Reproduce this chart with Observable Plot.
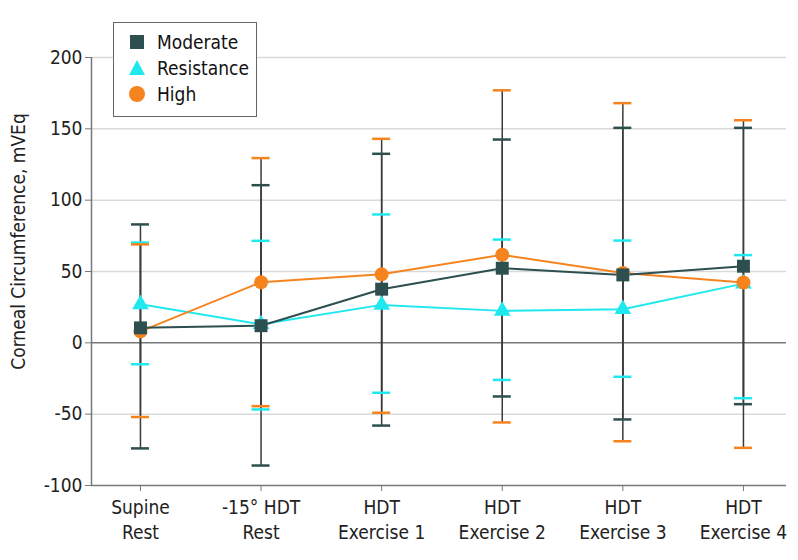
<!DOCTYPE html>
<html>
<head>
<meta charset="utf-8">
<script src="https://cdn.jsdelivr.net/npm/d3@7"></script>
<script src="https://cdn.jsdelivr.net/npm/@observablehq/plot@0.6"></script>
<style>
  html, body { margin: 0; padding: 0; background: #fff; }
  #wrap { position: relative; width: 798px; height: 560px; font-family: "DejaVu Sans Condensed", "Liberation Sans Narrow", sans-serif; }
  #legend { position: absolute; left: 113px; top: 22px; width: 144px; height: 95px; border: 1.5px solid #666; background: #fff; box-sizing: border-box; }
  .item { position: absolute; left: 14px; display: flex; align-items: center; font-size: 19px; color: #111; }
  .item svg { margin-right: 11px; }
</style>
</head>
<body>
<div id="wrap"><div id="chart"></div><div id="legend"></div></div>
<script>
const categories = ["Supine Rest", "-15° HDT Rest", "HDT Exercise 1", "HDT Exercise 2", "HDT Exercise 3", "HDT Exercise 4"];
const tickLabels = ["Supine\nRest", "-15° HDT\nRest", "HDT\nExercise 1", "HDT\nExercise 2", "HDT\nExercise 3", "HDT\nExercise 4"];
const yTicks = [-100, -50, 0, 50, 100, 150, 200];
const yTickLabels = ["-100", "-50", "0", "50", "100", "150", "200"];
const seriesNames = ["Moderate", "Resistance", "High"];

const moderateMean = [10.5, 12, 37.6, 52.3, 47.6, 53.7];
const moderateLow  = [-74, -86, -58, -37.6, -53.7, -43];
const moderateHigh = [83, 110.5, 132.5, 142.5, 150.7, 150.7];

const resistanceMean = [27, 13, 26.6, 22.4, 23.6, 41.5];
const resistanceLow  = [-15, -46.7, -35, -26, -23.8, -38.8];
const resistanceHigh = [70.3, 71.5, 90, 72.4, 71.7, 61.5];

const highMean = [8, 42.5, 48, 61.7, 49, 42.3];
const highLow  = [-52, -44.4, -49, -55.8, -69, -73.6];
const highHigh = [69, 129.5, 143, 177, 168, 156];

const colors = {Moderate: "#2d4f4f", Resistance: "#1fe8ef", High: "#f5841f"};
const symbols = {Moderate: "square", Resistance: "triangle", High: "circle"};
const radii = {Moderate: 7.3, Resistance: 6.2, High: 7};

const build = (name, mean, low, high) => categories.map((c, i) => ({series: name, cat: c, i, mean: mean[i], low: low[i], high: high[i]}));
const moderate = build("Moderate", moderateMean, moderateLow, moderateHigh);
const resistance = build("Resistance", resistanceMean, resistanceLow, resistanceHigh);
const high = build("High", highMean, highLow, highHigh);
const drawOrder = [resistance, high, moderate];
const all = [...resistance, ...high, ...moderate];

const xDomain = [-0.406, 5.357];
const font = '"DejaVu Sans Condensed", "Liberation Sans Narrow", sans-serif';

const marks = [
  Plot.gridY(yTicks.filter(t => t !== 0 && t !== -100), {stroke: "#d9d9d9", strokeOpacity: 1, strokeWidth: 1.5}),
  Plot.ruleY([0], {stroke: "#777", strokeWidth: 1.5}),
  Plot.ruleY([yTicks[0]], {stroke: "#777", strokeWidth: 1.5}),
  Plot.ruleX([xDomain[0]], {stroke: "#777", strokeWidth: 1.5}),
  Plot.axisY({ticks: yTicks, tickFormat: d => yTickLabels[yTicks.indexOf(d)], tickSize: 6, tickPadding: 3, stroke: "#777", fontSize: 19, fill: "#222", label: null}),
  Plot.axisX({ticks: categories.map((c, i) => i), tickFormat: i => tickLabels[i], tickSize: 6, tickPadding: 5, stroke: "#777", fontSize: 19, fill: "#222", lineHeight: 1.3, label: null}),
  Plot.ruleX(all, {x: "i", y1: "low", y2: "high", stroke: "#3a3a3a", strokeWidth: 1.5})
];
for (const s of drawOrder) {
  const name = s[0].series;
  marks.push(Plot.ruleY(s, {x1: "i", x2: "i", y: "high", insetLeft: -9, insetRight: -9, stroke: colors[name], strokeWidth: 2.5}));
  marks.push(Plot.ruleY(s, {x1: "i", x2: "i", y: "low", insetLeft: -9, insetRight: -9, stroke: colors[name], strokeWidth: 2.5}));
}
for (const s of drawOrder) {
  const name = s[0].series;
  marks.push(Plot.line(s, {x: "i", y: "mean", stroke: colors[name], strokeWidth: 2}));
}
for (const s of drawOrder) {
  const name = s[0].series;
  marks.push(Plot.dot(s, {x: "i", y: "mean", symbol: () => symbols[name], fill: colors[name], r: radii[name], stroke: "none"}));
}

const chart = Plot.plot({
  width: 798,
  height: 560,
  marginLeft: 91,
  marginRight: 12,
  marginTop: 57,
  marginBottom: 75,
  style: {fontFamily: font, background: "#fff"},
  x: {type: "linear", domain: xDomain},
  y: {type: "linear", domain: [yTicks[0], yTicks[yTicks.length - 1]]},
  symbol: {type: "identity"},
  marks: [
    ...marks,
    Plot.text(["Corneal Circumference, mVEq"], {frameAnchor: "left", textAnchor: "middle", dx: -73, dy: -30, rotate: -90, fontSize: 19, fill: "#222"})
  ]
});
document.getElementById("chart").appendChild(chart);

// legend
const legend = document.getElementById("legend");
const shapes = {
  Moderate: c => `<rect x="2" y="2" width="14" height="14" fill="${c}"/>`,
  Resistance: c => `<path d="M9,1 L17,16 L1,16 Z" fill="${c}"/>`,
  High: c => `<circle cx="9" cy="9" r="8" fill="${c}"/>`
};
seriesNames.forEach((n, k) => {
  const div = document.createElement("div");
  div.className = "item";
  div.style.top = (8 + k * 26) + "px";
  div.innerHTML = `<svg width="18" height="18">${shapes[n](colors[n])}</svg><span>${n}</span>`;
  legend.appendChild(div);
});
</script>
</body>
</html>
